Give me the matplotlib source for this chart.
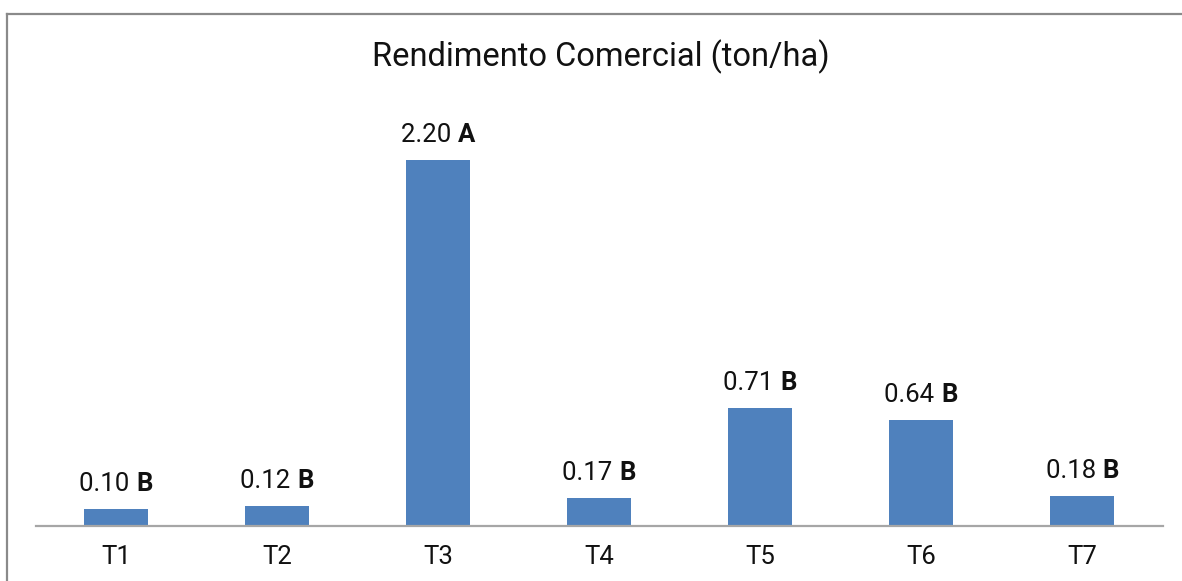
import matplotlib
matplotlib.use("Agg")
import matplotlib.pyplot as plt
from matplotlib.lines import Line2D

plt.rcParams['font.family'] = ['Roboto', 'DejaVu Sans']

treatments = ["T1", "T2", "T3", "T4", "T5", "T6", "T7"]
yield_ton_ha = [0.10, 0.12, 2.20, 0.17, 0.71, 0.64, 0.18]
groups = ["B", "B", "A", "B", "B", "B", "B"]

W, H = 1182, 581
fig = plt.figure(figsize=(W / 100, H / 100), dpi=100)
ax = fig.add_axes([35.5 / W, (H - 526) / H, 1127 / W, 416 / H])

x = list(range(len(treatments)))
bars = ax.bar(x, yield_ton_ha, width=0.4, color="#4F81BD", zorder=2)

ax.set_xlim(-0.5, len(treatments) - 0.5)
ax.set_ylim(0, 2.5)
ax.set_yticks([])
ax.set_xticks(x)
ax.set_xticklabels(treatments, fontsize=18.5, color="#111111")
ax.tick_params(axis="x", length=0, pad=14)
for side in ("top", "right", "left"):
    ax.spines[side].set_visible(False)
ax.spines["bottom"].set_color("#a6a6a6")
ax.spines["bottom"].set_linewidth(1.6)

fig.text(0.508, 1 - 57 / H, "Rendimento Comercial (ton/ha)",
         ha="center", va="center", fontsize=23.5, color="#111111")

# value labels: number in regular weight, significance letter in bold
renderer = fig.canvas.get_renderer()
fs = 18.5
for xi, val, grp in zip(x, yield_ton_ha, groups):
    xp, yp = ax.transData.transform((xi, val))
    yp += 18
    t1 = fig.text(0, 0, f"{val:.2f} ", fontsize=fs, color="#111111",
                  ha="left", va="baseline", transform=None)
    t2 = fig.text(0, 0, grp, fontsize=fs, color="#111111", fontweight="bold",
                  ha="left", va="baseline", transform=None)
    w1 = t1.get_window_extent(renderer).width
    w2 = t2.get_window_extent(renderer).width
    x0 = xp - (w1 + w2) / 2
    t1.set_position((x0, yp))
    t2.set_position((x0 + w1, yp))

# outer frame lines along the top and left edges
fig.add_artist(Line2D([7 / W, 1], [1 - 14 / H, 1 - 14 / H],
                      transform=fig.transFigure, color="#8a8a8a", lw=1.6))
fig.add_artist(Line2D([7 / W, 7 / W], [0, 1 - 14 / H],
                      transform=fig.transFigure, color="#8a8a8a", lw=1.6))

fig.savefig("out.png", dpi=100)
